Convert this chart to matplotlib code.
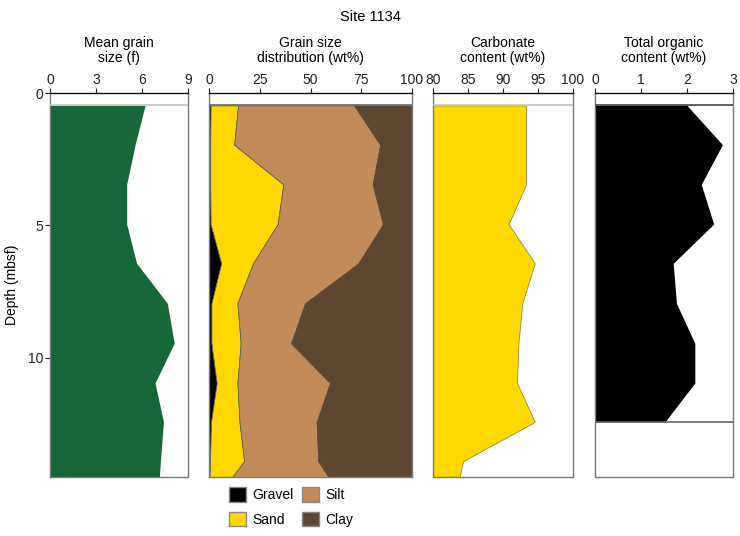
import numpy as np
import matplotlib
matplotlib.use('Agg')
import matplotlib.pyplot as plt
from matplotlib.patches import Patch

plt.rcParams['font.family'] = ['Liberation Sans', 'DejaVu Sans']
plt.rcParams['font.size'] = 10

# Sample depths (mbsf) - last value is the base of the recovered interval
depth = [0.47, 1.95, 3.45, 4.95, 6.43, 7.94, 9.45, 10.95, 12.42, 13.9, 14.5]

# Mean grain size (phi)
grain_size = [6.2, 5.55, 5.0, 5.0, 5.65, 7.65, 8.1, 6.85, 7.4, 7.2, 7.13]

# Grain size distribution (wt%)
gravel = [0.8, 0.6, 0.6, 0.8, 6.0, 1.2, 1.2, 3.8, 1.0, 0.5, 0.3]
sand = [13.5, 11.8, 36.0, 33.0, 15.7, 12.8, 14.4, 10.2, 14.0, 16.8, 11.1]
silt = [57.2, 71.9, 44.0, 51.9, 51.9, 33.3, 24.8, 45.6, 38.0, 36.5, 47.4]
clay = [100 - g - s - t for g, s, t in zip(gravel, sand, silt)]

# Carbonate content (wt%)
carbonate = [93.3, 93.3, 93.3, 90.8, 94.55, 92.75, 92.2, 92.0, 94.55, 84.3, 83.8]

# Total organic carbon (wt%) - no data below the last sample
toc_depth = [0.47, 1.95, 3.45, 4.95, 6.43, 7.94, 9.45, 10.95, 12.42]
toc = [2.0, 2.77, 2.31, 2.58, 1.70, 1.77, 2.17, 2.17, 1.52]

GREEN = '#17663a'
YELLOW = '#ffd800'
SILT = '#c38b59'
CLAY = '#5d4733'
BLACK = '#000000'
EDGE = '#555555'
FRAME = '#7a7a7a'

W, H = 740, 536
fig = plt.figure(figsize=(W / 100, H / 100), dpi=100)

top_px, bot_px = 93, 477
panels_px = [(50, 188), (209, 412), (433, 573), (595, 733)]
axes = []
for x0, x1 in panels_px:
    ax = fig.add_axes([x0 / W, 1 - bot_px / H, (x1 - x0) / W, (bot_px - top_px) / H])
    axes.append(ax)

d = np.array(depth)

def style(ax, xlim, xticks, title, top_line_color):
    ax.set_xlim(*xlim)
    ax.set_ylim(14.5, 0)
    ax.xaxis.tick_top()
    ax.set_xticks(xticks)
    ax.tick_params(axis='x', direction='out', length=3.5, width=0.8, pad=0.5, colors='#222222')
    ax.tick_params(axis='y', direction='out', length=3.5, width=0.8, pad=1.5, colors='#222222')
    for side in ['left', 'right', 'bottom']:
        ax.spines[side].set_color(FRAME)
        ax.spines[side].set_linewidth(1.0)
    ax.spines['top'].set_color('#111111')
    ax.spines['top'].set_linewidth(1.0)
    ax.axhline(depth[0], color=top_line_color, lw=1.2, zorder=3)
    ax.set_title(title, pad=22.5, fontsize=10, linespacing=1.1)

# Panel 1: mean grain size
ax = axes[0]
ax.fill_betweenx(d, 0, grain_size, color=GREEN, lw=0)
style(ax, (0, 9), [0, 3, 6, 9], 'Mean grain\nsize (f)', '#c4c4c4')
ax.set_yticks([0, 5, 10])
ax.set_ylabel('Depth (mbsf)', labelpad=6)

# Panel 2: grain size distribution (stacked)
ax = axes[1]
c1 = np.array(gravel)
c2 = c1 + np.array(sand)
c3 = c2 + np.array(silt)
c4 = c3 + np.array(clay)
ax.fill_betweenx(d, 0, c1, facecolor=BLACK, edgecolor=EDGE, lw=0.5)
ax.fill_betweenx(d, c1, c2, facecolor=YELLOW, edgecolor=EDGE, lw=0.5)
ax.fill_betweenx(d, c2, c3, facecolor=SILT, edgecolor=EDGE, lw=0.5)
ax.fill_betweenx(d, c3, c4, facecolor=CLAY, edgecolor=CLAY, lw=0.5)
style(ax, (0, 100), [0, 25, 50, 75, 100], 'Grain size\ndistribution (wt%)', '#666666')
ax.set_yticks([])

# Panel 3: carbonate content
ax = axes[2]
ax.fill_betweenx(d, 80, carbonate, facecolor=YELLOW, edgecolor='#8a7a30', lw=0.5)
style(ax, (80, 100), [80, 85, 90, 95, 100], 'Carbonate\ncontent (wt%)', '#c4c4c4')
ax.set_yticks([])

# Panel 4: total organic content
ax = axes[3]
ax.fill_betweenx(toc_depth, 0, toc, color=BLACK, lw=0)
ax.axhline(toc_depth[-1], color='#666666', lw=1.2, zorder=3)
style(ax, (0, 3), [0, 1, 2, 3], 'Total organic\ncontent (wt%)', '#444444')
ax.set_yticks([])

fig.suptitle('Site 1134', y=0.981, fontsize=10.5)

handles = [Patch(facecolor=BLACK, edgecolor='#888888', label='Gravel'),
           Patch(facecolor=YELLOW, edgecolor='#888888', label='Sand'),
           Patch(facecolor=SILT, edgecolor='#888888', label='Silt'),
           Patch(facecolor=CLAY, edgecolor='#888888', label='Clay')]
fig.legend(handles=handles, ncol=2, loc='upper left', bbox_to_anchor=(229 / W, 1 - 487 / H),
           frameon=False, handlelength=1.25, handleheight=1.25, handletextpad=0.45,
           columnspacing=0.55, labelspacing=0.7, fontsize=10, borderaxespad=0, borderpad=0)

fig.savefig('out.png', dpi=100)
